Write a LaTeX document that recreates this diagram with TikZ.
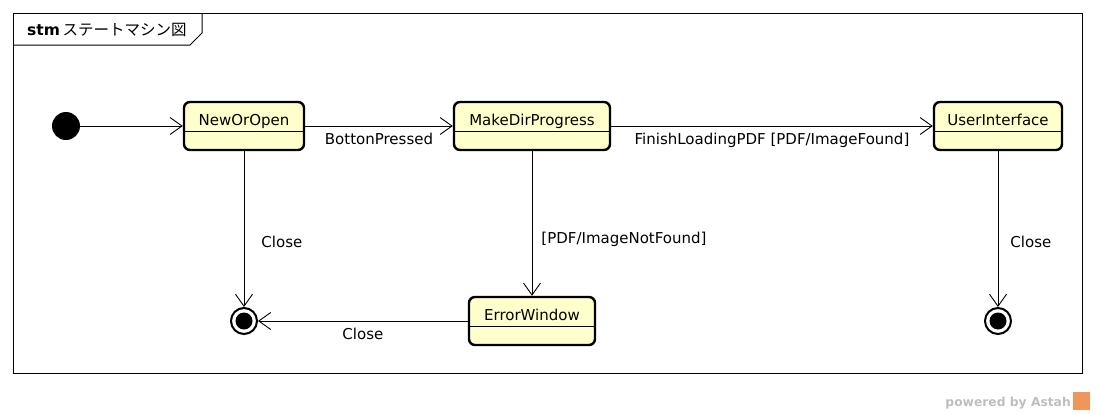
\documentclass[tikz,border=0pt]{standalone}
\usepackage{fontspec}
\setmainfont{DejaVu Sans}
\newfontfamily\cjk{Noto Sans CJK JP}
\usetikzlibrary{arrows.meta}
\definecolor{statefill}{RGB}{255,255,204}
\definecolor{wmgray}{RGB}{190,190,190}
\definecolor{astahorange}{RGB}{240,150,90}
\tikzset{
  statebox/.style={draw, line width=2.4pt, rounded corners=6pt, fill=statefill,
    minimum width=#1, minimum height=48pt, inner xsep=0pt, inner ysep=0pt,
    text height=23pt, text depth=25pt, font=\fontsize{15}{17}\selectfont},
  initstate/.style={circle, fill=black, minimum size=28pt, inner sep=0pt},
  finalstate/.style={circle, draw, line width=2pt, fill=white, minimum size=26pt, inner sep=0pt,
    path picture={\fill[black] (path picture bounding box.center) circle (8.5pt);}},
  trans/.style={line width=0.9pt, -{Straight Barb[length=12pt,width=17pt,line width=0.9pt]}},
  lbl/.style={font=\fontsize{15}{17}\selectfont, inner sep=0pt},
  divider/.style={line width=1pt}
}
\begin{document}
\begin{tikzpicture}[x=1pt,y=-1pt]
\useasboundingbox (0,0) rectangle (1096,413);
% frame
\draw[line width=1pt] (13,13) rectangle (1082,373);
\draw[line width=1pt] (13,45) -- (190,45) -- (202,33) -- (202,13);
\node[anchor=base west, inner sep=0pt, font=\fontsize{15.5}{17}\selectfont] (title) at (27,35) {\textbf{stm}\,{\cjk ステートマシン図}};
% states
\node[initstate] (init) at (66,126) {};
\node[statebox=120pt] (nop) at (244,126) {NewOrOpen};
\node[statebox=156pt] (mdp) at (532,126) {MakeDirProgress};
\node[statebox=128pt] (ui) at (998,126) {UserInterface};
\node[statebox=126pt] (ew) at (532,321) {ErrorWindow};
\foreach \n in {nop,mdp,ui,ew}{
  \draw[divider] ([yshift=-31pt]\n.north west) -- ([yshift=-31pt]\n.north east);
}
\node[finalstate] (f1) at (244,321) {};
\node[finalstate] (f3) at (998,321) {};
% transitions
\draw[trans] (init) -- (nop);
\draw[trans] (nop) -- node[lbl, below=7pt] {BottonPressed} (mdp);
\draw[trans] (mdp) -- node[lbl, below=7pt] {FinishLoadingPDF [PDF/ImageFound]} (ui);
\draw[trans] (nop) -- node[lbl, pos=0.58, right=17pt] {Close} (f1);
\draw[trans] (mdp) -- node[lbl, pos=0.61, anchor=west, xshift=9pt] {[PDF/ImageNotFound]} (ew);
\draw[trans] (ew) -- node[lbl, below=7pt] {Close} (f1);
\draw[trans] (ui) -- node[lbl, pos=0.58, right=12pt] {Close} (f3);
% watermark
\node[anchor=base east, inner sep=0pt, text=wmgray, font=\fontsize{12.3}{14}\selectfont\bfseries] (wm) at (1071,406) {powered by Astah};
\fill[astahorange] (1073,392) rectangle (1090,410);
\end{tikzpicture}
\end{document}
